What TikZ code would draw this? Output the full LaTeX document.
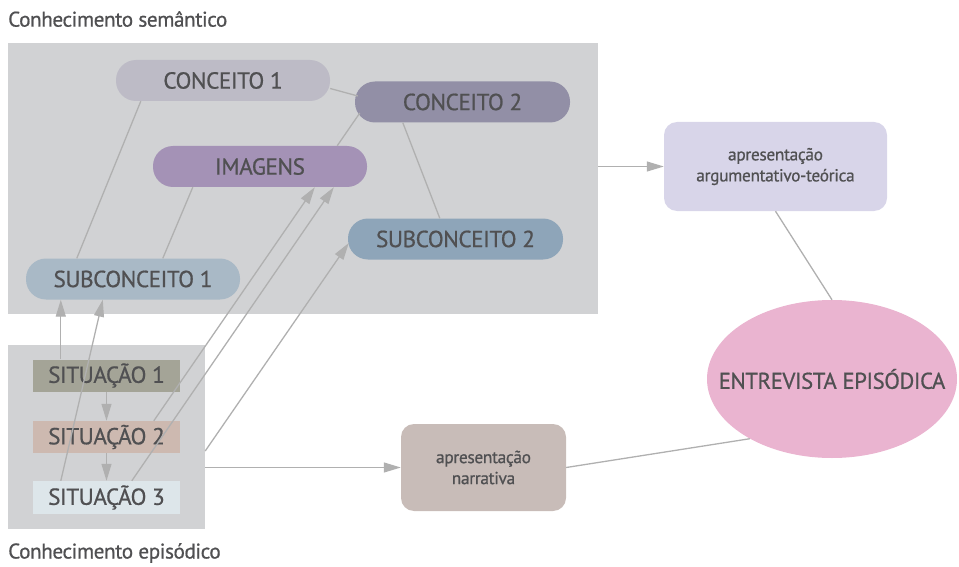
\documentclass[tikz,border=0pt]{standalone}
\usepackage{fontspec}
\setmainfont{PT Sans}[FakeBold=0.7,LetterSpace=-2]
\usetikzlibrary{arrows.meta,shapes.geometric,calc}
\definecolor{boxgrey}{HTML}{D1D2D4}
\definecolor{txt}{HTML}{505052}
\definecolor{lin}{HTML}{B0B0B0}
\definecolor{cA}{HTML}{BDBBC6}
\definecolor{cB}{HTML}{928FA6}
\definecolor{cImg}{HTML}{A492B6}
\definecolor{cSB}{HTML}{8EA5B9}
\definecolor{cSA}{HTML}{A9B9C6}
\definecolor{sitA}{HTML}{A4A497}
\definecolor{sitB}{HTML}{CDB9B0}
\definecolor{sitC}{HTML}{DDE6EA}
\definecolor{argc}{HTML}{D8D5E9}
\definecolor{ellc}{HTML}{EAB4D0}
\definecolor{narc}{HTML}{C8BCB8}
\begin{document}
\begin{tikzpicture}[x=1pt,y=-1pt,
  area/.style={rectangle,fill=boxgrey,draw=none,inner sep=0},
  pill/.style={rectangle,rounded corners=20pt,minimum width=214pt,minimum height=41pt,inner sep=0,text=txt,font=\fontsize{23.2}{26}\selectfont},
  sitbox/.style={rectangle,minimum width=147pt,minimum height=32pt,inner sep=0,text=txt,font=\fontsize{23.2}{26}\selectfont},
  present/.style={rectangle,rounded corners=13pt,inner sep=0,text=txt,align=center,font=\fontsize{17.4}{21}\selectfont},
  heading/.style={anchor=west,inner sep=0,text=txt,font=\fontsize{21.2}{24}\selectfont},
  conn/.style={draw=lin,line width=1.3pt},
  arr/.style={conn,-{Triangle[length=17pt,width=10pt]}}]
\useasboundingbox (0,0) rectangle (959,567);
% areas
\node[area,minimum width=590pt,minimum height=271pt] (sem) at (303,178.5) {};
\node[area,minimum width=197pt,minimum height=184pt] (epi) at (106.5,437) {};
\node[heading] (t1) at (8,19) {Conhecimento semântico};
\node[heading] (t2) at (8,553) {Conhecimento episódico};
% semantic nodes
\node[pill,fill=cA] (c1) at (223,80.5) {CONCEITO 1};
\node[pill,fill=cB,minimum width=215pt] (c2) at (462.5,102) {CONCEITO 2};
\node[pill,fill=cImg] (img) at (260,166.5) {IMAGENS};
\node[pill,fill=cSB,minimum width=215pt] (s2) at (455.5,239) {SUBCONCEITO 2};
\node[pill,fill=cSA] (s1) at (133,279) {SUBCONCEITO 1};
% episodic nodes
\node[sitbox,fill=sitA] (sit1) at (106.5,375.5) {SITUAÇÃO 1};
\node[sitbox,fill=sitB] (sit2) at (106.5,437) {SITUAÇÃO 2};
\node[sitbox,fill=sitC,minimum height=33pt] (sit3) at (106.5,497.5) {SITUAÇÃO 3};
% right side
\node[present,fill=argc,minimum width=223pt,minimum height=89pt] (arg) at (775.5,166.5) {apresentação\\argumentativo-teórica};
\node[ellipse,fill=ellc,minimum width=250pt,minimum height=158pt,inner sep=0] (ell) at (832,379) {};
\node[inner sep=0,text=txt,font=\fontsize{22.8}{26}\selectfont] (elltext) at (ell.center) {ENTREVISTA EPISÓDICA};
\node[present,fill=narc,minimum width=165pt,minimum height=87pt] (nar) at (483.5,467.5) {apresentação\\narrativa};
% plain connectors
\draw[conn] ($(c1.east)+(0,8)$) -- ($(c2.west)+(3,-6)$);
\draw[conn] ($(c1.south west)+(25,0)$) -- ($(s1.north west)+(51,0)$);
\draw[conn] ($(img.south west)+(40,0)$) -- ($(s1.north west)+(137,0)$);
\draw[conn] ($(c2.south west)+(48,0)$) -- ($(s2.north west)+(92,0)$);
\draw[conn] ($(c2.west)+(5,11)$) -- ($(img.north east)+(-30,0)$);
\draw[conn] (arg.south) -- (ell.north);
\draw[conn] (nar.east) -- (ell.216);
% arrows
\draw[arr] ($(sit1.north west)+(28,0)$) -- ($(s1.south west)+(35,0)$);
\draw[arr] ($(sit3.north west)+(28,0)$) -- ($(s1.south west)+(77,0)$);
\draw[arr] ($(sit2.north west)+(121,0)$) -- ($(img.south west)+(162,0)$);
\draw[arr] ($(sit3.north west)+(99,0)$) -- ($(img.south west)+(181,0)$);
\draw[arr] ($(epi.east)+(0,14)$) -- ($(s2.west)+(1,4)$);
\draw[arr] (epi.east |- nar.west) -- (nar.west);
\draw[arr] (sem.east |- arg.west) -- (arg.west);
\draw[arr] (sit1.south) -- (sit2.north);
\draw[arr] (sit2.south) -- (sit3.north);
\end{tikzpicture}
\end{document}
